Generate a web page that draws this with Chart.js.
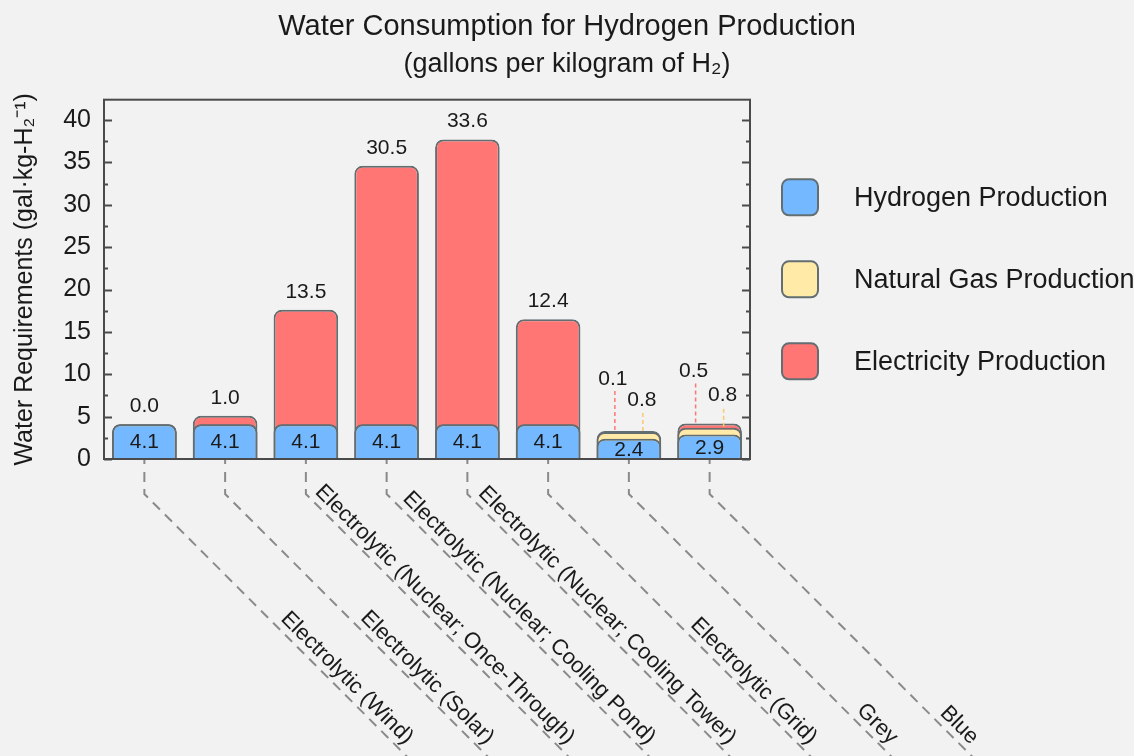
<!DOCTYPE html>
<html>
<head>
<meta charset="utf-8">
<title>Water Consumption for Hydrogen Production</title>
<script src="https://cdn.jsdelivr.net/npm/chart.js@4.4.1/dist/chart.umd.min.js"></script>
<style>
  html, body { margin: 0; padding: 0; background: #f2f2f2; }
  #wrap { width: 1134px; height: 756px; position: relative; }
</style>
</head>
<body>
<div id="wrap"><canvas id="waterChart"></canvas></div>
<script>
const categories = [
  "Electrolytic (Wind)",
  "Electrolytic (Solar)",
  "Electrolytic (Nuclear; Once-Through)",
  "Electrolytic (Nuclear; Cooling Pond)",
  "Electrolytic (Nuclear; Cooling Tower)",
  "Electrolytic (Grid)",
  "Grey",
  "Blue",
];
const hydrogen = [4.1, 4.1, 4.1, 4.1, 4.1, 4.1, 2.4, 2.9];
const naturalGas = [0, 0, 0, 0, 0, 0, 0.8, 0.8];
const electricity = [0.0, 1.0, 13.5, 30.5, 33.6, 12.4, 0.1, 0.5];
const seriesNames = ["Hydrogen Production", "Natural Gas Production", "Electricity Production"];
const yMajorTicks = [0, 5, 10, 15, 20, 25, 30, 35, 40];
const yMinorTicks = [2.5, 7.5, 12.5, 17.5, 22.5, 27.5, 32.5, 37.5];
const yMax = 42.4;

const FONT = "'Liberation Sans', Arial, Helvetica, sans-serif";
const colors = {
  hydrogen: "#74b9ff",
  gas: "#ffeaa7",
  elec: "#ff7675",
  edge: "#636e72",
  frame: "#4a4a4a",
  gasLine: "#f9c96b",
  text: "#1a1a1a",
};

// bars overlap: every dataset runs from zero to its cumulative top,
// the lower component is drawn on top of the ones above it
const gasTop = hydrogen.map((h, i) => +(h + naturalGas[i]).toFixed(2));
const elecTop = gasTop.map((g, i) => +(g + electricity[i]).toFixed(2));

const bgPlugin = {
  id: "bg",
  beforeDraw(chart) {
    const { ctx, width, height } = chart;
    ctx.save();
    ctx.fillStyle = "#f2f2f2";
    ctx.fillRect(0, 0, width, height);
    ctx.restore();
  },
};

function dashedLine(ctx, x, y1, y2, color) {
  ctx.save();
  ctx.strokeStyle = color;
  ctx.lineWidth = 1.5;
  ctx.setLineDash([4, 3]);
  ctx.beginPath();
  ctx.moveTo(x, y1);
  ctx.lineTo(x, y2);
  ctx.stroke();
  ctx.restore();
}

const framePlugin = {
  id: "frame",
  afterDatasetsDraw(chart) {
    const { ctx, chartArea: a } = chart;
    const x = chart.scales.x;
    const y = chart.scales.y;
    ctx.save();

    // box around plot
    ctx.strokeStyle = colors.frame;
    ctx.lineWidth = 2;
    ctx.strokeRect(a.left, a.top, a.right - a.left, a.bottom - a.top);

    // inward ticks on both sides
    const tick = (v, len) => {
      const py = Math.round(y.getPixelForValue(v)) + 0.5;
      ctx.beginPath();
      ctx.moveTo(a.left, py);
      ctx.lineTo(a.left + len, py);
      ctx.moveTo(a.right, py);
      ctx.lineTo(a.right - len, py);
      ctx.stroke();
    };
    yMajorTicks.forEach((v) => tick(v, 8));
    yMinorTicks.forEach((v) => tick(v, 4));

    // category ticks, dashed leaders and slanted labels
    const drop = 35, along = 362, perp = 13;
    ctx.font = `22px ${FONT}`;
    ctx.fillStyle = colors.text;
    categories.forEach((label, i) => {
      const cx = x.getPixelForValue(i);
      const y0 = a.bottom;
      ctx.strokeStyle = "#8a8a8a";
      ctx.lineWidth = 2;
      ctx.setLineDash([]);
      ctx.beginPath();
      ctx.moveTo(cx, y0 + 1);
      ctx.lineTo(cx, y0 + 5);
      ctx.stroke();

      ctx.setLineDash([10, 7]);
      ctx.lineDashOffset = -3;
      ctx.beginPath();
      ctx.moveTo(cx, y0 + 10);
      ctx.lineTo(cx, y0 + drop);
      ctx.lineTo(cx + 400, y0 + drop + 400);
      ctx.stroke();

      const ex = cx + (along + perp) / Math.SQRT2;
      const ey = y0 + drop + (along - perp) / Math.SQRT2;
      ctx.save();
      ctx.translate(ex, ey);
      ctx.rotate(Math.PI / 4);
      ctx.textAlign = "right";
      ctx.textBaseline = "middle";
      ctx.fillText(label, 0, 0);
      ctx.restore();
    });
    ctx.restore();
  },
};

const valuePlugin = {
  id: "values",
  afterDatasetsDraw(chart) {
    const { ctx } = chart;
    const x = chart.scales.x;
    const y = chart.scales.y;
    ctx.save();
    ctx.font = `21px ${FONT}`;
    ctx.fillStyle = colors.text;
    ctx.textAlign = "center";
    ctx.textBaseline = "middle";
    categories.forEach((_, i) => {
      const cx = x.getPixelForValue(i);
      const mid = (y.getPixelForValue(0) + y.getPixelForValue(hydrogen[i])) / 2;
      ctx.fillText(hydrogen[i].toFixed(1), cx, mid + 1);

      const top = y.getPixelForValue(elecTop[i]);
      if (naturalGas[i] > 0) {
        const eLab = top - 52;
        dashedLine(ctx, cx - 14, top - 1, eLab + 11, colors.elec);
        ctx.fillText(electricity[i].toFixed(1), cx - 16, eLab);
        const gTop = y.getPixelForValue(gasTop[i]);
        const gLab = gTop - 32;
        dashedLine(ctx, cx + 14, gTop - 1, gLab + 11, colors.gasLine);
        ctx.fillText(naturalGas[i].toFixed(1), cx + 13, gLab);
      } else {
        ctx.fillText(electricity[i].toFixed(1), cx, top - 18);
      }
    });
    ctx.restore();
  },
};

const legendPlugin = {
  id: "sideLegend",
  afterDraw(chart) {
    const { ctx, chartArea: a } = chart;
    const midY = (a.top + a.bottom) / 2;
    ctx.save();
    ctx.font = `27px ${FONT}`;
    ctx.textAlign = "left";
    ctx.textBaseline = "middle";
    chart.data.datasets.forEach((ds, i) => {
      const cy = midY + (i - 1) * 82;
      ctx.beginPath();
      ctx.roundRect(a.right + 32, cy - 18, 36, 36, 7);
      ctx.fillStyle = ds.backgroundColor;
      ctx.fill();
      ctx.strokeStyle = colors.edge;
      ctx.lineWidth = 2;
      ctx.stroke();
      ctx.fillStyle = colors.text;
      ctx.fillText(ds.label, a.right + 104, cy + 1);
    });
    ctx.restore();
  },
};

function barSet(label, data, color) {
  return {
    label,
    data,
    backgroundColor: color,
    borderColor: colors.edge,
    borderWidth: 2,
    borderRadius: 8,
    grouped: false,
    barPercentage: 0.8,
    categoryPercentage: 1.0,
  };
}

window.onload = () => {
  const ctx = document.getElementById("waterChart").getContext("2d");
  new Chart(ctx, {
    type: "bar",
    data: {
      labels: categories,
      datasets: [
        barSet(seriesNames[0], hydrogen, colors.hydrogen),
        barSet(seriesNames[1], gasTop, colors.gas),
        barSet(seriesNames[2], elecTop, colors.elec),
      ],
    },
    options: {
      responsive: true,
      maintainAspectRatio: false,
      animation: false,
      layout: { padding: 0 },
      scales: {
        x: {
          grid: { display: false },
          border: { display: false },
          ticks: { display: false },
          afterFit: (s) => { s.height = 297; },
        },
        y: {
          min: 0,
          max: yMax,
          grid: { display: false, drawTicks: false },
          border: { display: false },
          ticks: {
            stepSize: 5,
            includeBounds: false,
            padding: 13,
            color: colors.text,
            font: { family: FONT, size: 25 },
          },
          title: {
            display: true,
            text: "Water Requirements (gal·kg-H₂⁻¹)",
            color: colors.text,
            font: { family: FONT, size: 25 },
            padding: { top: 10, bottom: 0 },
          },
          afterFit: (s) => { s.width = 104; },
        },
        // empty axis on the right keeps room for the legend
        legendSpace: {
          type: "linear",
          position: "right",
          grid: { display: false, drawTicks: false },
          border: { display: false },
          ticks: { display: false },
          afterFit: (s) => { s.width = 384; },
        },
      },
      plugins: {
        legend: { display: false },
        tooltip: { enabled: false },
        title: {
          display: true,
          text: "Water Consumption for Hydrogen Production",
          color: colors.text,
          font: { family: FONT, size: 29, weight: "normal" },
          padding: { top: 10, bottom: 2 },
        },
        subtitle: {
          display: true,
          text: "(gallons per kilogram of H₂)",
          color: colors.text,
          font: { family: FONT, size: 27, weight: "normal" },
          padding: { top: 1.5, bottom: 19 },
        },
      },
    },
    plugins: [bgPlugin, framePlugin, valuePlugin, legendPlugin],
  });
};
</script>
</body>
</html>
